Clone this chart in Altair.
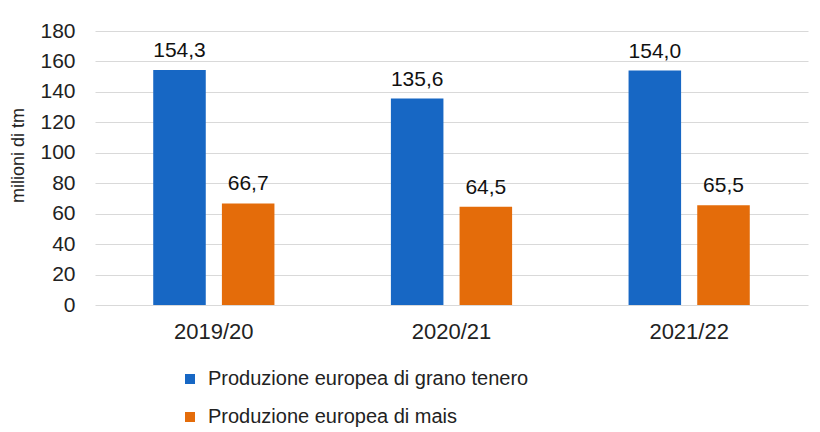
import altair as alt
import pandas as pd

years = ["2019/20", "2020/21", "2021/22"]
series = ["Produzione europea di grano tenero", "Produzione europea di mais"]
grano = [154.3, 135.6, 154.0]
mais = [66.7, 64.5, 65.5]
colors = ["#1767C4", "#E46C0A"]
y_ticks = [0, 20, 40, 60, 80, 100, 120, 140, 160, 180]

rows = []
for i, y in enumerate(years):
    for s, vals in zip(series, [grano, mais]):
        v = vals[i]
        rows.append({"anno": y, "serie": s, "valore": v,
                     "etichetta": f"{v:.1f}".replace(".", ",")})
df = pd.DataFrame(rows)

FONT = "Liberation Sans"

y_axis = alt.Axis(values=y_ticks, labelOverlap=False,
                  title="milioni di tm",
                  titleFontSize=18, titleFontWeight="normal", titleColor="#222",
                  titleAngle=270, titleX=-77, titleY=124,
                  titleBaseline="middle", titleAlign="center",
                  labelFontSize=21, labelColor="#222", labelPadding=20,
                  ticks=False, domain=False, grid=True, gridColor="#d9d9d9")

base = alt.Chart(df).encode(
    x=alt.X("anno:N", sort=years, title=None,
            scale=alt.Scale(paddingInner=0.49, paddingOuter=0.245),
            axis=alt.Axis(labelAngle=0, labelFontSize=22, labelPadding=16,
                          ticks=False, domain=False, labelColor="#222")),
    xOffset=alt.XOffset("serie:N", sort=series,
                        scale=alt.Scale(paddingInner=0.235, paddingOuter=0)),
    y=alt.Y("valore:Q", scale=alt.Scale(domain=[0, 180], nice=False), axis=y_axis),
)

bars = base.mark_bar().encode(
    color=alt.Color("serie:N", sort=series,
                    scale=alt.Scale(domain=series, range=colors),
                    legend=alt.Legend(title=None, orient="none", legendX=85, legendY=338,
                                      direction="vertical", symbolType="square",
                                      symbolSize=100, labelFontSize=20, labelLimit=0,
                                      labelColor="#222", rowPadding=18,
                                      labelOffset=8, symbolStrokeWidth=0)),
)

labels = base.mark_text(baseline="alphabetic", dy=-13, fontSize=21, color="#111", font=FONT).encode(
    text="etichetta:N",
)

chart = (bars + labels).properties(
    width=713, height=274,
    autosize=alt.AutoSizeParams(type="none"),
    padding={"left": 87, "top": 23, "right": 4, "bottom": 124},
).configure(font=FONT).configure_view(stroke=None)

chart.save("out.html", embed_options={"renderer": "svg", "actions": False})
